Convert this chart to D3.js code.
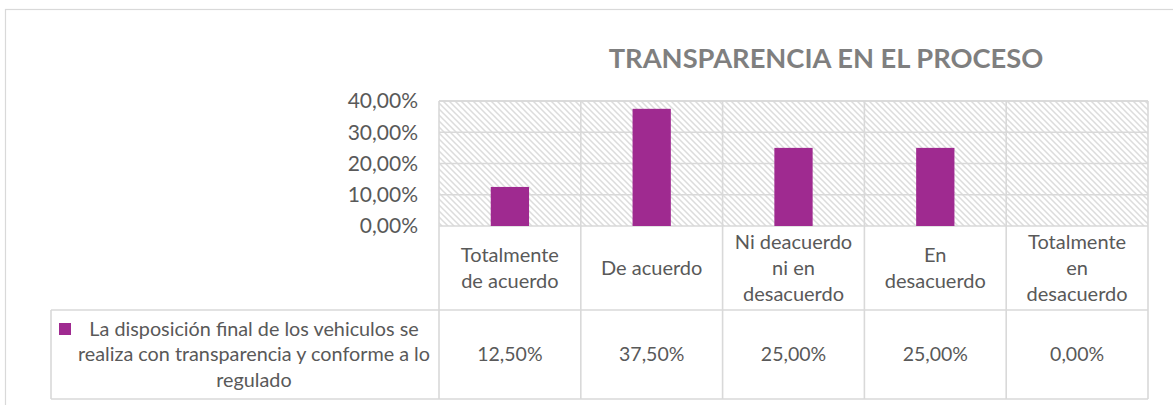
<!DOCTYPE html>
<html><head><meta charset="utf-8">
<script src="https://cdn.jsdelivr.net/npm/d3@7"></script>
<style>body{margin:0;background:#fff}svg{display:block}text{font-family:Lato,"Open Sans",sans-serif;fill:#595959}</style>
</head><body>
<svg id="c" width="1173" height="405"></svg>
<script>
const categories = [["Totalmente","de acuerdo"],["De acuerdo"],["Ni deacuerdo","ni en","desacuerdo"],["En","desacuerdo"],["Totalmente","en","desacuerdo"]];
const values = [0.125, 0.375, 0.25, 0.25, 0.0];
const valueLabels = ["12,50%","37,50%","25,00%","25,00%","0,00%"];
const yTicks = [0, 0.1, 0.2, 0.3, 0.4];
const seriesName = ["La disposición final de los vehiculos se","realiza con transparencia y conforme a lo","regulado"];
const title = "TRANSPARENCIA EN EL PROCESO";

(function(){
const svg = d3.select("#c");
const grid = "#d9d9d9", barColor = "#9f2a90";
const pL = 439, pR = 1148, pT = 101, base = 226, rowB = 310, rowC = 399, legL = 51;

const defs = svg.append("defs");
const pat = defs.append("pattern").attr("id","hatch").attr("patternUnits","userSpaceOnUse")
  .attr("width",6).attr("height",6);
pat.append("rect").attr("width",6).attr("height",6).attr("fill","#fff");
pat.append("path").attr("d","M-1,-1 L7,7 M-1,5 L1,7 M5,-1 L7,1").attr("stroke","#dcdcdc").attr("stroke-width",1.5);

// outer frame
svg.append("rect").attr("x",5.5).attr("y",9.5).attr("width",1200).attr("height",500)
  .attr("fill","none").attr("stroke",grid).attr("stroke-width",1.2);

const x = d3.scaleBand().domain(d3.range(categories.length)).range([pL,pR]).padding(0);
const y = d3.scaleLinear().domain([0,0.4]).range([base,pT]);

svg.append("rect").attr("x",pL).attr("y",pT).attr("width",pR-pL).attr("height",base-pT).attr("fill","url(#hatch)");

// horizontal gridlines
svg.append("g").selectAll("line").data(yTicks).join("line")
  .attr("x1",pL).attr("x2",pR).attr("y1",d=>y(d)).attr("y2",d=>y(d))
  .attr("stroke",grid).attr("stroke-width",1.6);

// y axis labels
const fmt = d => d3.format(".2f")(d*100).replace(".",",")+"%";
svg.append("g").selectAll("text").data(yTicks).join("text")
  .attr("x",418).attr("y",d=>y(d)).attr("dy","0.35em").attr("text-anchor","end")
  .style("font-size","21px").text(fmt);

// bars
const bw = x.bandwidth()*0.27;
svg.append("g").selectAll("rect").data(values).join("rect")
  .attr("x",(d,i)=>x(i)+x.bandwidth()/2-bw/2).attr("width",bw)
  .attr("y",d=>y(d)).attr("height",d=>y(0)-y(d)).attr("fill",barColor);

// table lines
const g = svg.append("g").attr("stroke",grid).attr("stroke-width",1.6);
d3.range(categories.length+1).forEach(i=>{
  const xx = i<categories.length ? x(i) : pR;
  g.append("line").attr("x1",xx).attr("x2",xx).attr("y1",pT).attr("y2",rowC);
});
g.append("line").attr("x1",pL).attr("x2",pR).attr("y1",pT).attr("y2",pT);
g.append("line").attr("x1",legL).attr("x2",pR).attr("y1",rowB).attr("y2",rowB);
g.append("line").attr("x1",legL).attr("x2",pR).attr("y1",rowC).attr("y2",rowC);
g.append("line").attr("x1",legL).attr("x2",legL).attr("y1",rowB).attr("y2",rowC);

// category labels
const lh = 26;
categories.forEach((lines,i)=>{
  const cy = (base+rowB)/2;
  const t = svg.append("text").attr("text-anchor","middle").style("font-size","20px");
  lines.forEach((s,j)=>{
    t.append("tspan").attr("x",x(i)+x.bandwidth()/2)
     .attr("y",cy+(j-(lines.length-1)/2)*lh).attr("dy","0.35em").text(s);
  });
});

// value labels
svg.append("g").selectAll("text").data(valueLabels).join("text")
  .attr("x",(d,i)=>x(i)+x.bandwidth()/2).attr("y",(rowB+rowC)/2).attr("dy","0.35em")
  .attr("text-anchor","middle").style("font-size","19.5px").text(d=>d);

// legend
svg.append("rect").attr("x",59).attr("y",323).attr("width",12).attr("height",12).attr("fill",barColor);
const lt = svg.append("text").attr("text-anchor","middle").style("font-size","19.8px");
seriesName.forEach((s,j)=>{
  lt.append("tspan").attr("x",254).attr("y",(rowB+rowC)/2+(j-1)*25.5).attr("dy","0.35em").text(s);
});

// title
svg.append("text").attr("x",826).attr("y",58).attr("dy","0.35em").attr("text-anchor","middle")
  .style("font-size","27.3px").style("font-weight","bold").style("fill","#7f7f7f").text(title);
})();
</script>
</body></html>
